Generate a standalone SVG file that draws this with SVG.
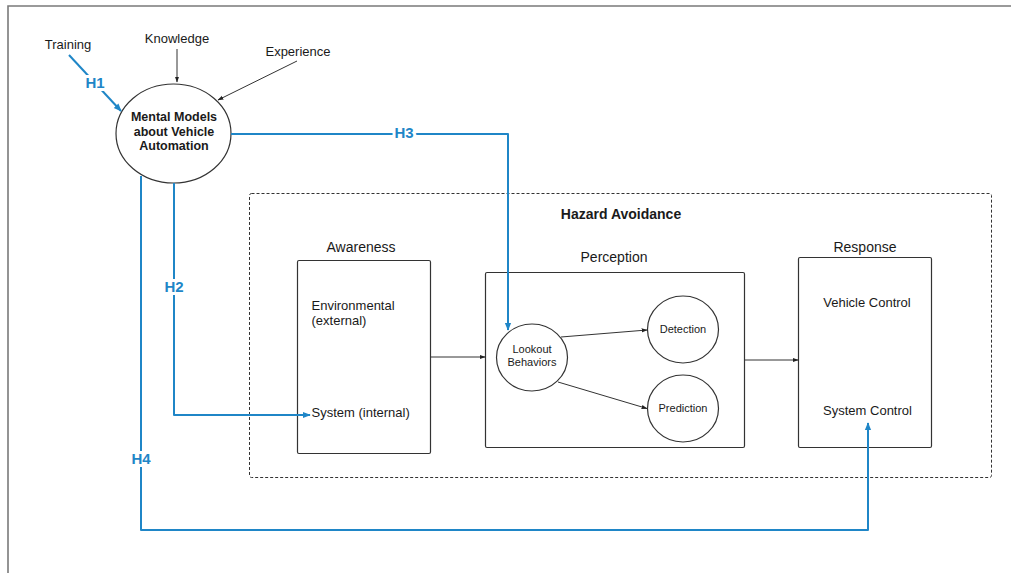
<svg xmlns="http://www.w3.org/2000/svg" width="1011" height="573" viewBox="0 0 1011 573">
<style>
text{font-family:"Liberation Sans",Arial,sans-serif;fill:#1a1a1a}
.node{fill:#fff;stroke:#333;stroke-width:1.2}
.bk{stroke:#333;stroke-width:1;fill:none}
.bl{stroke:#1f86c7;stroke-width:2;fill:none;stroke-linejoin:round}
.hl{font-size:15px;font-weight:bold;fill:#1f86c7;stroke:#fff;stroke-width:6;paint-order:stroke;text-anchor:middle;dominant-baseline:central}
.lbl{font-size:13px;dominant-baseline:central}
.c{text-anchor:middle}
</style>
<defs>
<marker id="ak" viewBox="0 0 10 10" refX="9" refY="5" markerWidth="6" markerHeight="6" orient="auto" markerUnits="userSpaceOnUse"><path d="M0,1.5 L10,5 L0,8.5 z" fill="#222"/></marker>
<marker id="ab" viewBox="0 0 10 10" refX="9" refY="5" markerWidth="8" markerHeight="8" orient="auto" markerUnits="userSpaceOnUse"><path d="M0,1 L10,5 L0,9 z" fill="#1f86c7"/></marker>
</defs>
<rect width="1011" height="573" fill="#fff"/>
<path d="M8,573 V6 H1011" fill="none" stroke="#7a7a7a" stroke-width="1.6"/>

<g id="hazard">
<rect x="249.5" y="193.5" width="742" height="284" rx="2" fill="none" stroke="#333" stroke-width="1" stroke-dasharray="3,2"/>
<text x="621" y="214" class="c" font-size="14" font-weight="bold" dominant-baseline="central">Hazard Avoidance</text>
</g>

<g id="training"><text x="68" y="44" class="lbl c">Training</text></g>
<g id="knowledge"><text x="177" y="38" class="lbl c">Knowledge</text></g>
<g id="experience"><text x="298" y="51" class="lbl c">Experience</text></g>

<g id="mental-models">
<ellipse class="node" cx="173.5" cy="133.5" rx="57.5" ry="49.5"/>
<text x="174" y="117" class="c" font-size="12.5" font-weight="bold" dominant-baseline="central">Mental Models</text>
<text x="174" y="132" class="c" font-size="12.5" font-weight="bold" dominant-baseline="central">about Vehicle</text>
<text x="174" y="146" class="c" font-size="12.5" font-weight="bold" dominant-baseline="central">Automation</text>
</g>

<g id="awareness">
<text x="361" y="247" class="c" font-size="14" dominant-baseline="central">Awareness</text>
<rect class="node" x="297.5" y="260.5" width="133" height="193" rx="1.5"/>
<text x="311.5" y="305" class="lbl">Environmental</text>
<text x="311.5" y="320" class="lbl">(external)</text>
<text x="311.5" y="412.5" class="lbl">System (internal)</text>
</g>

<g id="perception">
<text x="614" y="257" class="c" font-size="14" dominant-baseline="central">Perception</text>
<rect class="node" x="485.5" y="272.5" width="259" height="175" rx="1.5"/>
</g>

<g id="lookout">
<ellipse class="node" cx="532" cy="357.5" rx="35.5" ry="33.5"/>
<text x="532" y="349" class="c" font-size="11" dominant-baseline="central">Lookout</text>
<text x="532" y="362" class="c" font-size="11" dominant-baseline="central">Behaviors</text>
</g>

<g id="detection">
<ellipse class="node" cx="683" cy="329.5" rx="35.5" ry="33.5"/>
<text x="683" y="329" class="c" font-size="11" dominant-baseline="central">Detection</text>
</g>

<g id="prediction">
<ellipse class="node" cx="683" cy="408.5" rx="35.5" ry="33.5"/>
<text x="683" y="407.5" class="c" font-size="11" dominant-baseline="central">Prediction</text>
</g>

<g id="response">
<text x="865" y="247" class="c" font-size="14" dominant-baseline="central">Response</text>
<rect class="node" x="798.5" y="257.5" width="133" height="190" rx="1.5"/>
<text x="867" y="302.5" class="lbl c">Vehicle Control</text>
<text x="867.5" y="410" class="lbl c">System Control</text>
</g>

<g id="connectors">
<line class="bk" x1="177" y1="49" x2="177" y2="82" marker-end="url(#ak)"/>
<line class="bk" x1="297" y1="61" x2="218" y2="100" marker-end="url(#ak)"/>
<line class="bk" x1="430.5" y1="357" x2="485" y2="357" marker-end="url(#ak)"/>
<line class="bk" x1="744.5" y1="360" x2="798" y2="360" marker-end="url(#ak)"/>
<line class="bk" x1="561" y1="337" x2="647" y2="330" marker-end="url(#ak)"/>
<line class="bk" x1="558" y1="382" x2="647" y2="408.5" marker-end="url(#ak)"/>
<line class="bl" x1="69" y1="55" x2="121" y2="111" marker-end="url(#ab)"/>
<path class="bl" d="M231,134 H508 V330" marker-end="url(#ab)"/>
<path class="bl" d="M174,183 V415 H310" marker-end="url(#ab)"/>
<path class="bl" d="M141,176 V530 H868 V423" marker-end="url(#ab)"/>
<text class="hl" x="95" y="82">H1</text>
<text class="hl" x="404" y="132">H3</text>
<text class="hl" x="174" y="286">H2</text>
<text class="hl" x="141" y="458">H4</text>
</g>
</svg>
